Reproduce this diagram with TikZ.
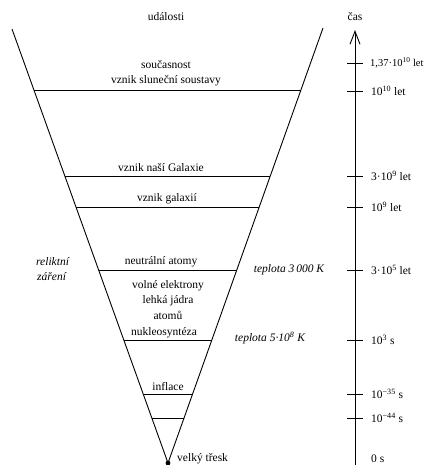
\documentclass[tikz,border=0pt]{standalone}
\usepackage{fontspec}
\setmainfont{Liberation Serif}
\usetikzlibrary{arrows.meta}
\begin{document}
\begin{tikzpicture}[x=1pt,y=-1pt,
  lbl/.style={inner sep=0pt,font=\fontsize{11.5}{13}\selectfont},
  ilbl/.style={lbl,font=\fontsize{11.5}{13}\selectfont\itshape},
  tlbl/.style={lbl,anchor=west},
  lev/.style={line width=0.9pt},
  funnel/.style={line width=0.9pt},
  tick/.style={line width=0.9pt}]
\useasboundingbox (0,0) rectangle (428,465);
% funnel
\coordinate (tl) at (12,29);
\coordinate (tr) at (323,28);
\coordinate (apex) at (168,463);
\draw[funnel] (tl) -- (apex) -- (tr);
\fill (apex) circle (2.4);
% levels
\foreach \n/\y in {a/90.5,b/176,c/207,d/270,e/340,f/394,g/418}{
  \coordinate (L\n) at ({12+0.35945*(\y-29)},\y);
  \coordinate (R\n) at ({323-0.35632*(\y-28)},\y);
  \draw[lev] (L\n) -- (R\n);
}
% event texts
\node[lbl] (udal) at (166,17) {události};
\node[lbl] (soucas) at (166,65) {současnost};
\node[lbl] (slunce) at (166,81) {vznik sluneční soustavy};
\node[lbl] (nasgal) at (161,168) {vznik naší Galaxie};
\node[lbl] (galax) at (167,199) {vznik galaxií};
\node[lbl] (neutr) at (161,262) {neutrální atomy};
\node[lbl] (volne) at (168,286) {volné elektrony};
\node[lbl] (lehka) at (168,301) {lehká jádra};
\node[lbl] (atomu) at (168,315) {atomů};
\node[lbl] (nukleo) at (164,333) {nukleosyntéza};
\node[lbl] (infl) at (168,387) {inflace};
\node[lbl,anchor=west] (tresk) at (177,459) {velký třesk};
% side texts
\node[ilbl,anchor=west] (relik) at (36,262) {reliktní};
\node[ilbl,anchor=west] (zare) at (37,277) {záření};
\node[ilbl] (tep1) at (289,270) {teplota 3\,000 K};
\node[ilbl] (tep2) at (270,338) {teplota 5·10\textsuperscript{8} K};
% time axis
\coordinate (axbot) at (355,470);
\coordinate (axtop) at (355,30);
\draw[line width=0.9pt,-{Straight Barb[length=13pt,width=10pt,line width=0.9pt]}] (axbot) -- (axtop);
\node[lbl] (cas) at (355,17) {čas};
\foreach \n/\y/\t in {
  t2/91/{10\textsuperscript{10} let},
  t3/176/{3·10\textsuperscript{9} let},
  t4/207/{10\textsuperscript{9} let},
  t5/270/{3·10\textsuperscript{5} let},
  t6/340/{10\textsuperscript{3} s},
  t7/394/{10\textsuperscript{−35} s},
  t8/418/{10\textsuperscript{−44} s}}{
  \draw[tick] (347,\y) -- (363,\y);
  \node[tlbl] (\n) at (371,\y) {\t};
}
\draw[tick] (347,63) -- (363,63);
\node[tlbl,font=\fontsize{10.5}{12}\selectfont] (t1) at (370,63) {1,37·10\textsuperscript{10} let};
\node[tlbl] (t9) at (371,459) {0 s};
\end{tikzpicture}
\end{document}
